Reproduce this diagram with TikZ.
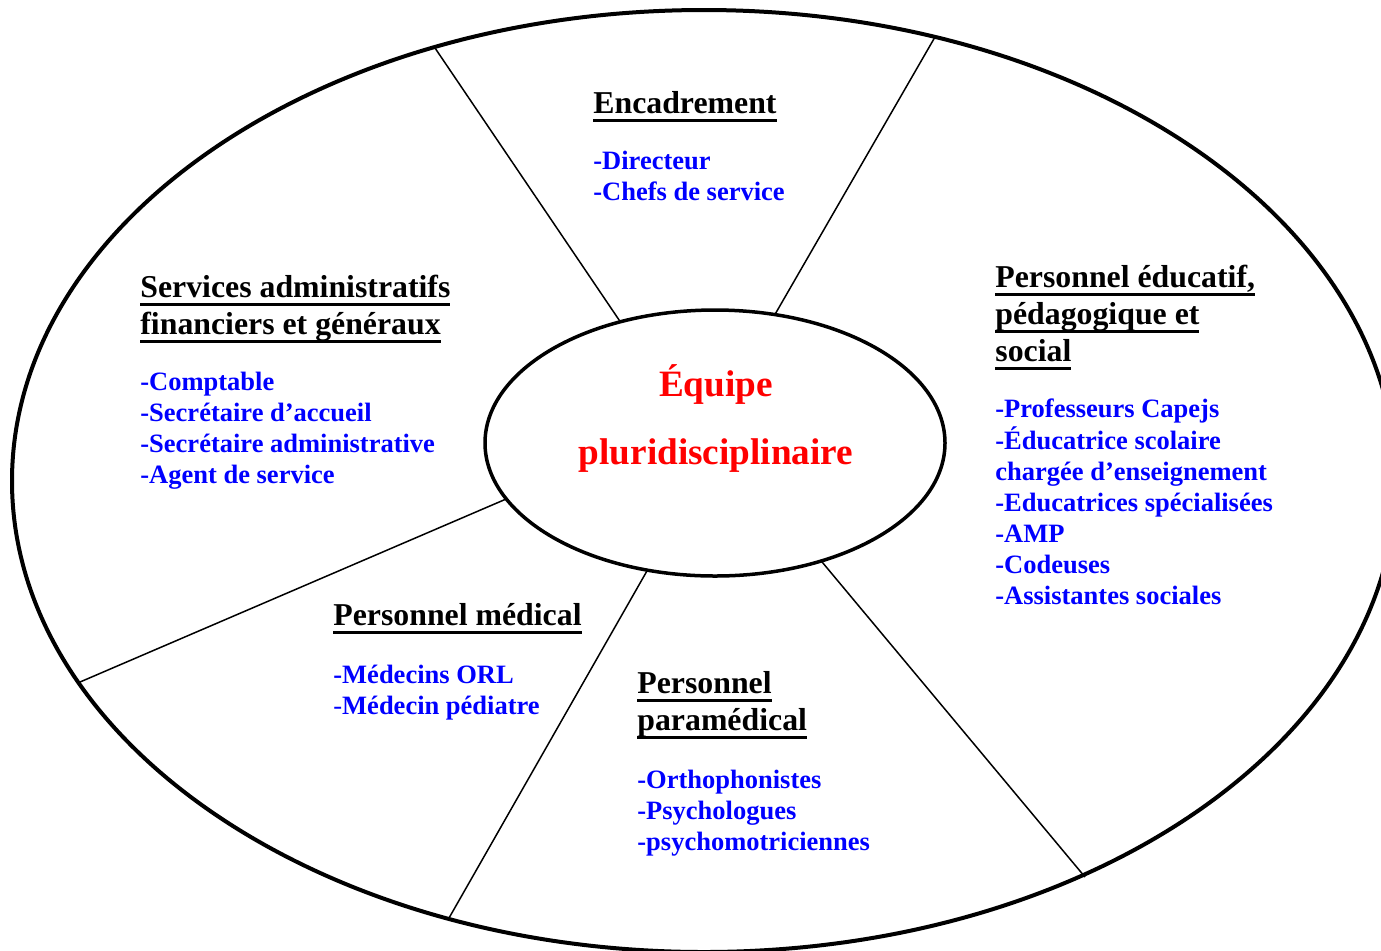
\documentclass[tikz,border=0pt]{standalone}
\usepackage{fontspec}
\setmainfont{Liberation Serif}
\usetikzlibrary{shapes.geometric}

% type sizes for the headings, the staff lists and the central label
\newcommand\headfont{\fontsize{15.9pt}{18.5pt}\selectfont\bfseries}
\newcommand\itemfont{\fontsize{13.25pt}{15.5pt}\selectfont\bfseries}
\newcommand\hubfont{\fontsize{18.6pt}{34pt}\selectfont\bfseries}
% heavy underline sitting a little below the baseline
\newcommand\hul[1]{\setbox0\hbox{#1}\rlap{\rule[-0.29em]{\wd0}{0.09em}}\box0}
% left-aligned block whose baseline is that of its first line
\newcommand\txtblock[1]{\begin{tabular}[t]{@{}l@{}}#1\end{tabular}}

\begin{document}
\begin{tikzpicture}[x=0.5pt,y=-0.5pt,
  rimstyle/.style={draw, ellipse, line width=2pt, inner sep=0pt, outer sep=0pt,
    minimum width=692pt, minimum height=471pt},
  hubstyle/.style={draw, ellipse, line width=1.75pt, inner sep=0pt, outer sep=0pt,
    minimum width=230pt, minimum height=133pt},
  spoke/.style={line width=0.75pt},
  head/.style={anchor=base west, inner sep=0pt, font=\headfont},
  items/.style={anchor=base west, inner sep=0pt, font=\itemfont, text=blue},
  title/.style={anchor=base, inner sep=0pt, font=\hubfont, text=red}]

\useasboundingbox (0,0) rectangle (1381,950);
\clip (0,0) rectangle (1381,950);

% the two rings
\node[rimstyle] (rim) at (704,481) {};
\node[hubstyle] (hub) at (715,443) {};

% points where the spokes meet the outer ring
\coordinate (r1) at (435,48);
\coordinate (r2) at (935,37);
\coordinate (r3) at (80,682);
\coordinate (r4) at (449,918);
\coordinate (r5) at (1085,877);

% dividing spokes between the sectors
\draw[spoke] (hub.128.8) -- (r1);
\draw[spoke] (hub.65.8)  -- (r2);
\draw[spoke] (hub.195.1) -- (r3);
\draw[spoke] (hub.242.6) -- (r4);
\draw[spoke] (hub.312.7) -- (r5);

% central label
\node[title] (hubT) at (716,396)
  {\begin{tabular}[t]{@{}c@{}}Équipe\\pluridisciplinaire\end{tabular}};

% sectors
\node[head]  (encT) at (593,113) {\txtblock{\hul{Encadrement}}};
\node[items] (encL) at (593,169) {\txtblock{-Directeur\\-Chefs de service}};

\node[head]  (admT) at (140,297)
  {\txtblock{\hul{Services administratifs}\\\hul{financiers et généraux}}};
\node[items] (admL) at (140,390)
  {\txtblock{-Comptable\\-Secrétaire d’accueil\\-Secrétaire administrative\\-Agent de service}};

\node[head]  (eduT) at (995,287)
  {\txtblock{\hul{Personnel éducatif,}\\\hul{pédagogique et}\\\hul{social}}};
\node[items] (eduL) at (995,417)
  {\txtblock{-Professeurs Capejs\\-Éducatrice scolaire\\chargée d’enseignement\\-Educatrices spécialisées\\-AMP\\-Codeuses\\-Assistantes sociales}};

\node[head]  (medT) at (333,625) {\txtblock{\hul{Personnel médical}}};
\node[items] (medL) at (333,683)
  {\txtblock{-Médecins ORL\\\textmd{-}Médecin pédiatre}};

\node[head]  (parT) at (637,693) {\txtblock{\hul{Personnel}\\\hul{paramédical}}};
\node[items] (parL) at (637,788)
  {\txtblock{-Orthophonistes\\-Psychologues\\-psychomotriciennes}};

\end{tikzpicture}
\end{document}
